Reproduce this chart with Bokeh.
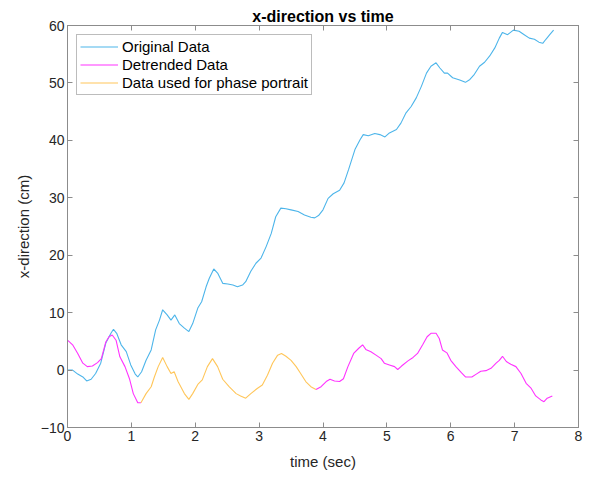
from bokeh.plotting import figure
from bokeh.models import Legend, LegendItem, LinearAxis, Range1d, FixedTicker
from bokeh.embed import file_html
from bokeh.resources import INLINE

# Original data (time in sec, x-direction in cm)
orig_t = [0.00, 0.08, 0.16, 0.24, 0.30, 0.37, 0.44, 0.52, 0.60, 0.68, 0.72, 0.77, 0.84, 0.92, 0.99,
          1.06, 1.10, 1.16, 1.23, 1.31, 1.38, 1.44, 1.49, 1.56, 1.62, 1.68, 1.75, 1.83, 1.90, 1.96,
          2.04, 2.10, 2.17, 2.22, 2.29, 2.35, 2.43, 2.51, 2.59, 2.66, 2.74, 2.79, 2.87, 2.95, 3.03,
          3.11, 3.19, 3.26, 3.34, 3.42, 3.50, 3.61, 3.71, 3.81, 3.87, 3.93, 4.00, 4.08, 4.16, 4.26,
          4.33, 4.40, 4.50, 4.58, 4.63, 4.71, 4.81, 4.89, 4.97, 5.04, 5.15, 5.22, 5.30, 5.38, 5.46,
          5.54, 5.62, 5.69, 5.77, 5.83, 5.90, 5.95, 6.03, 6.14, 6.23, 6.30, 6.37, 6.45, 6.53, 6.61,
          6.69, 6.76, 6.81, 6.89, 6.98, 7.07, 7.15, 7.23, 7.31, 7.38, 7.44, 7.49, 7.55, 7.61]
orig_x = [0.0, 0.0, -0.7, -1.2, -1.9, -1.6, -0.6, 1.2, 4.7, 6.4, 7.1, 6.4, 4.4, 3.2, 0.9,
          -0.7, -1.2, -0.3, 1.7, 3.5, 7.0, 8.7, 10.5, 9.6, 8.7, 9.6, 8.1, 7.3, 6.7, 8.1,
          10.8, 11.9, 14.5, 16.0, 17.6, 16.9, 15.1, 15.0, 14.8, 14.5, 14.8, 15.4, 17.2, 18.6, 19.5,
          21.5, 23.8, 26.7, 28.2, 28.1, 27.9, 27.6, 27.0, 26.6, 26.5, 26.9, 27.9, 29.9, 30.7, 31.3,
          32.6, 34.9, 38.4, 40.1, 41.0, 40.8, 41.2, 41.0, 40.6, 41.3, 41.9, 43.0, 44.8, 45.9, 47.4,
          49.4, 51.7, 52.9, 53.5, 52.6, 51.7, 51.7, 50.9, 50.5, 50.1, 50.6, 51.5, 52.9, 53.6, 54.7,
          56.1, 57.8, 58.8, 58.4, 59.2, 59.0, 58.4, 57.8, 57.6, 57.1, 56.9, 57.6, 58.4, 59.2]

# Detrended data
detr_t = [0.00, 0.08, 0.16, 0.24, 0.31, 0.39, 0.47, 0.53, 0.60, 0.65, 0.70, 0.76, 0.82, 0.90, 0.97,
          1.03, 1.10, 1.15, 1.23, 1.31, 1.36, 1.42, 1.49, 1.56, 1.62, 1.67, 1.73, 1.83, 1.90, 1.96,
          2.04, 2.11, 2.19, 2.27, 2.35, 2.43, 2.53, 2.64, 2.71, 2.79, 2.87, 2.97, 3.05, 3.13, 3.21,
          3.29, 3.35, 3.42, 3.50, 3.58, 3.65, 3.73, 3.81, 3.89, 3.97, 4.05, 4.11, 4.18, 4.26, 4.32,
          4.39, 4.48, 4.56, 4.62, 4.67, 4.75, 4.83, 4.91, 4.96, 5.04, 5.12, 5.17, 5.23, 5.33, 5.41,
          5.48, 5.56, 5.63, 5.69, 5.77, 5.82, 5.87, 5.94, 6.00, 6.08, 6.17, 6.23, 6.33, 6.40, 6.47,
          6.55, 6.63, 6.71, 6.76, 6.81, 6.87, 6.94, 7.02, 7.10, 7.18, 7.26, 7.33, 7.41, 7.46, 7.51, 7.59]
detr_x = [5.2, 4.4, 2.9, 1.2, 0.6, 0.7, 1.3, 2.0, 4.9, 5.8, 6.1, 5.2, 2.3, 0.6, -1.5,
          -4.1, -5.7, -5.7, -4.1, -2.9, -1.2, 0.6, 2.2, 0.6, -0.6, -0.3, -2.0, -4.1, -5.1, -4.1,
          -2.5, -1.7, 0.6, 2.0, 0.6, -1.6, -2.9, -4.1, -4.5, -4.9, -4.1, -3.2, -2.6, -0.9, 1.2,
          2.6, 2.9, 2.4, 1.7, 0.6, -0.6, -2.0, -2.9, -3.4, -2.9, -2.0, -1.6, -1.9, -2.0, -1.5,
          0.6, 2.9, 3.8, 4.4, 3.6, 3.2, 2.6, 2.0, 1.2, 0.9, 0.6, 0.1, 0.7, 1.6, 2.2,
          2.9, 4.4, 5.8, 6.4, 6.4, 5.5, 3.5, 3.0, 1.7, 0.6, -0.5, -1.2, -1.2, -0.7, -0.2,
          -0.1, 0.3, 1.2, 1.7, 2.4, 1.5, 1.0, 0.6, -0.6, -2.3, -3.2, -4.5, -5.2, -5.5, -4.9, -4.5]

# Window of detrended data used for the phase portrait (sec)
phase_start, phase_end = 1.15, 3.89
phase_t = [t for t in detr_t if phase_start <= t <= phase_end]
phase_x = [x for t, x in zip(detr_t, detr_x) if phase_start <= t <= phase_end]
pre_t = [t for t in detr_t if t <= phase_start]
pre_x = [x for t, x in zip(detr_t, detr_x) if t <= phase_start]
post_t = [t for t in detr_t if t >= phase_end]
post_x = [x for t, x in zip(detr_t, detr_x) if t >= phase_end]

x_ticks = [0, 1, 2, 3, 4, 5, 6, 7, 8]
y_ticks = [-10, 0, 10, 20, 30, 40, 50, 60]

FONT = "Liberation Sans"
AXC = "#262626"
BOX = "#8c8c8c"

p = figure(width=589, height=482, output_backend="svg", toolbar_location=None,
           x_range=Range1d(0, 8), y_range=Range1d(-10, 60),
           min_border_left=67, min_border_right=11, min_border_top=25, min_border_bottom=55)
p.title.text = "x-direction vs time"
p.title.align = "center"
p.title.text_font = FONT
p.title.text_font_size = "16px"
p.title.text_font_style = "bold"
p.title.text_color = "#000000"
p.title.offset = 0
p.title.standoff = 2

p.xgrid.visible = False
p.ygrid.visible = False
p.outline_line_color = BOX
p.background_fill_color = "white"
p.border_fill_color = "white"

for ax in (p.xaxis[0], p.yaxis[0]):
    ax.axis_line_color = BOX
    ax.major_tick_line_color = BOX
    ax.major_tick_in = 5
    ax.major_tick_out = 0
    ax.minor_tick_line_color = None
    ax.major_label_text_font = FONT
    ax.major_label_text_font_size = "14px"
    ax.major_label_text_color = AXC
    ax.axis_label_text_font = FONT
    ax.axis_label_text_font_size = "15px"
    ax.axis_label_text_font_style = "normal"
    ax.axis_label_text_color = AXC

p.xaxis.ticker = FixedTicker(ticks=x_ticks)
p.yaxis.ticker = FixedTicker(ticks=y_ticks)
p.xaxis.axis_label = "time (sec)"
p.yaxis.axis_label = "x-direction (cm)"
p.xaxis.major_label_standoff = 3
p.yaxis.major_label_standoff = 3
p.xaxis.axis_label_standoff = 9
p.yaxis.axis_label_standoff = 6

for side, tk in (("right", y_ticks), ("above", x_ticks)):
    ax = LinearAxis(ticker=FixedTicker(ticks=tk),
                    major_label_overrides={t: "" for t in tk},
                    axis_line_color=BOX, major_tick_line_color=BOX,
                    major_tick_in=5, major_tick_out=0, minor_tick_line_color=None,
                    major_label_standoff=0)
    p.add_layout(ax, side)

r1 = p.line(orig_t, orig_x, line_color="#4DB5EA", line_width=1.1)
r2 = p.line(pre_t, pre_x, line_color="#FF33FF", line_width=1.1)
p.line(post_t, post_x, line_color="#FF33FF", line_width=1.1)
r3 = p.line(phase_t, phase_x, line_color="#FFC65A", line_width=1.1)

legend = Legend(items=[LegendItem(label="Original Data", renderers=[r1]),
                       LegendItem(label="Detrended Data", renderers=[r2]),
                       LegendItem(label="Data used for phase portrait", renderers=[r3])],
                location="top_left")
legend.margin = 9
legend.padding = 3
legend.spacing = 1
legend.glyph_width = 38
legend.glyph_height = 17
legend.label_height = 17
legend.label_standoff = 4
legend.label_text_font = FONT
legend.label_text_font_size = "15px"
legend.label_text_color = "#000000"
legend.border_line_color = "#7a7a7a"
legend.border_line_width = 1
legend.background_fill_alpha = 1.0
p.add_layout(legend)

open("out.html", "w").write(file_html(p, INLINE))
